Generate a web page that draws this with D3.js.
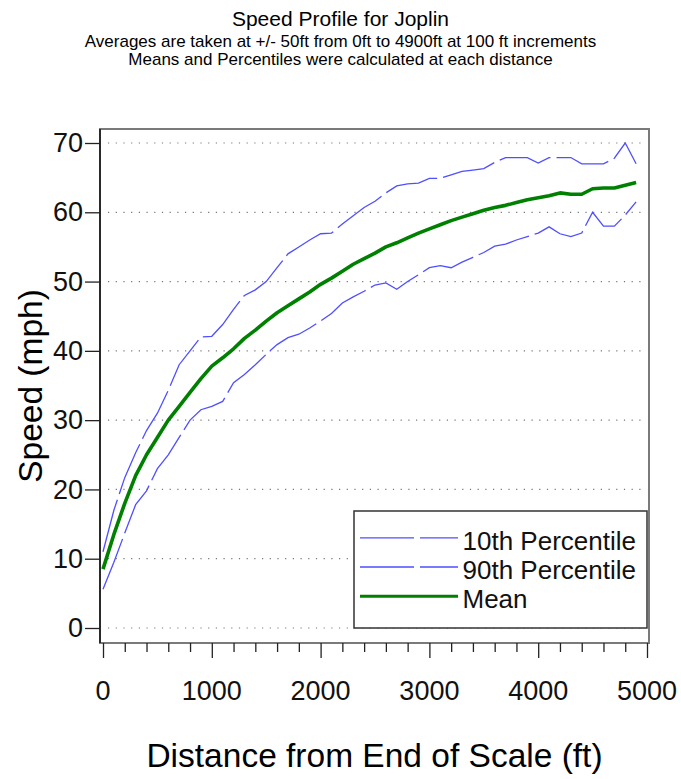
<!DOCTYPE html>
<html>
<head>
<meta charset="utf-8">
<script src="https://cdn.jsdelivr.net/npm/d3@7"></script>
<style>
  body { margin: 0; background: #fff; }
  text { font-family: "Liberation Sans", Arial, sans-serif; }
</style>
</head>
<body>
<div class="chart"></div>
<script>
const width = 681;
const height = 779;

// distance from end of scale (ft), 100 ft steps
const distance = [0, 100, 200, 300, 400, 500, 600, 700, 800, 900,
    1000, 1100, 1200, 1300, 1400, 1500, 1600, 1700, 1800, 1900,
    2000, 2100, 2200, 2300, 2400, 2500, 2600, 2700, 2800, 2900,
    3000, 3100, 3200, 3300, 3400, 3500, 3600, 3700, 3800, 3900,
    4000, 4100, 4200, 4300, 4400, 4500, 4600, 4700, 4800, 4900];

const pct10 = [5.6, 9.5, 13.7, 17.8, 19.8, 23, 25, 27.5, 30, 31.5,
    32, 32.7, 35.4, 36.6, 38, 39.5, 40.9, 41.9, 42.4, 43.3,
    44.3, 45.4, 46.9, 47.8, 48.6, 49.5, 49.8, 48.9, 50, 51,
    52, 52.3, 52, 52.8, 53.5, 54.2, 55.1, 55.4, 56, 56.5,
    57, 57.9, 56.9, 56.5, 57, 60, 58, 58, 59.6, 61.5];

const pct90 = [11, 17, 21.7, 25.3, 28.5, 31, 34.3, 38, 40, 42,
    42.1, 43.8, 46, 48, 48.8, 50, 52, 54, 55, 56,
    56.9, 57, 58.3, 59.5, 60.7, 61.6, 62.8, 63.8, 64.1, 64.2,
    64.9, 64.9, 65.4, 65.9, 66.1, 66.3, 67.2, 67.9, 67.9, 67.9,
    67.1, 67.9, 67.9, 67.9, 67, 67, 67, 67.8, 70, 67];

const meanSpeed = [8.5, 13.5, 18, 22, 25, 27.5, 30, 32, 34, 36,
    37.8, 39, 40.3, 41.8, 43, 44.3, 45.5, 46.5, 47.5, 48.5,
    49.6, 50.5, 51.5, 52.5, 53.3, 54.1, 55, 55.6, 56.3, 57,
    57.6, 58.2, 58.8, 59.3, 59.8, 60.3, 60.7, 61, 61.4, 61.8,
    62.1, 62.4, 62.8, 62.6, 62.6, 63.4, 63.5, 63.5, 63.9, 64.3];

const xTicks = [0, 1000, 2000, 3000, 4000, 5000];
const yTicks = [0, 10, 20, 30, 40, 50, 60, 70];

const seriesNames = ["10th Percentile", "90th Percentile", "Mean"];

const blue = "#4f4fff";
const green = "#008000";
const dash = "54,6";

const frame = {left: 100, right: 649, top: 129, bottom: 643};

const svg = d3.select(".chart")
    .append("svg")
        .attr("width", width)
        .attr("height", height);

const x = d3.scaleLinear()
    .domain([0, 5000])
    .range([103, 647]);

const y = d3.scaleLinear()
    .domain([0, 70])
    .range([628, 143]);

// titles
svg.append("text")
    .attr("x", width / 2)
    .attr("y", 26)
    .attr("text-anchor", "middle")
    .attr("font-size", 21)
    .text("Speed Profile for Joplin");

svg.append("text")
    .attr("x", width / 2)
    .attr("y", 47)
    .attr("text-anchor", "middle")
    .attr("font-size", 17)
    .text("Averages are taken at +/- 50ft from 0ft to 4900ft at 100 ft increments");

svg.append("text")
    .attr("x", width / 2)
    .attr("y", 65)
    .attr("text-anchor", "middle")
    .attr("font-size", 17)
    .text("Means and Percentiles were calculated at each distance");

// dotted grid
svg.append("g")
    .selectAll("line")
    .data(yTicks)
    .join("line")
        .attr("x1", 108)
        .attr("x2", frame.right - 3)
        .attr("y1", d => y(d))
        .attr("y2", d => y(d))
        .attr("stroke", "#777")
        .attr("stroke-width", 1.2)
        .attr("stroke-dasharray", "1.2,6.5");

// frame
svg.append("rect")
    .attr("x", frame.left)
    .attr("y", frame.top)
    .attr("width", frame.right - frame.left)
    .attr("height", frame.bottom - frame.top)
    .attr("fill", "none")
    .attr("stroke", "#7a7a7a")
    .attr("stroke-width", 2);

// y axis
const yAxis = svg.append("g")
    .attr("transform", `translate(${frame.left},0)`)
    .call(d3.axisLeft(y).tickValues(yTicks).tickSize(15).tickPadding(2));
yAxis.select(".domain")
    .attr("d", `M0,${frame.top}V${frame.bottom}`)
    .attr("stroke", "#111")
    .attr("stroke-width", 1.5);
yAxis.selectAll(".tick line").attr("stroke", "#222").attr("stroke-width", 1.3);
yAxis.selectAll(".tick text")
    .attr("font-size", 27)
    .attr("font-family", "Liberation Sans, Arial, sans-serif")
    .attr("fill", "#111");

// x axis: minor ticks every 200 ft, labelled every 1000
const xAxis = svg.append("g")
    .attr("transform", `translate(0,${frame.bottom})`)
    .call(d3.axisBottom(x).ticks(25).tickSize(9).tickFormat(""));
xAxis.select(".domain").remove();
xAxis.selectAll(".tick line")
    .attr("stroke", "#222")
    .attr("stroke-width", 1.3)
    .attr("y2", d => d % 1000 === 0 ? 15 : 9);

svg.append("g")
    .selectAll("text")
    .data(xTicks)
    .join("text")
        .attr("x", d => x(d))
        .attr("y", 700)
        .attr("text-anchor", "middle")
        .attr("font-size", 27)
        .attr("fill", "#111")
        .text(d => d);

// axis titles
svg.append("text")
    .attr("x", (frame.left + frame.right) / 2)
    .attr("y", 767)
    .attr("text-anchor", "middle")
    .attr("font-size", 33.5)
    .text("Distance from End of Scale (ft)");

svg.append("text")
    .attr("transform", `translate(42,${(frame.top + frame.bottom) / 2}) rotate(-90)`)
    .attr("text-anchor", "middle")
    .attr("font-size", 33.5)
    .text("Speed (mph)");

// lines
const line = values => d3.line()
    .x((d, i) => x(distance[i]))
    .y(d => y(d))
    (values);

svg.append("path")
    .attr("d", line(pct10))
    .attr("fill", "none")
    .attr("stroke", blue)
    .attr("stroke-width", 1.3)
    .attr("stroke-dasharray", dash);

svg.append("path")
    .attr("d", line(pct90))
    .attr("fill", "none")
    .attr("stroke", blue)
    .attr("stroke-width", 1.3)
    .attr("stroke-dasharray", dash);

svg.append("path")
    .attr("d", line(meanSpeed))
    .attr("fill", "none")
    .attr("stroke", green)
    .attr("stroke-width", 3.6)
    .attr("stroke-linejoin", "round");

// legend
const legend = svg.append("g")
    .attr("transform", "translate(354,511)");

legend.append("rect")
    .attr("width", 293)
    .attr("height", 117)
    .attr("fill", "#fff")
    .attr("stroke", "#333")
    .attr("stroke-width", 1.5);

const rows = legend.selectAll("g")
    .data(seriesNames)
    .join("g")
        .attr("transform", (d, i) => `translate(0,${38.5 + i * 29.2})`);

rows.append("line")
    .attr("x1", 6)
    .attr("x2", 104)
    .attr("y1", -11.7)
    .attr("y2", -11.7)
    .attr("stroke", d => d === "Mean" ? green : blue)
    .attr("stroke-width", d => d === "Mean" ? 3 : 1.3)
    .attr("stroke-dasharray", d => d === "Mean" ? null : dash);

rows.append("text")
    .attr("x", 108.5)
    .attr("font-size", 26)
    .attr("fill", "#111")
    .text(d => d);
</script>
</body>
</html>
